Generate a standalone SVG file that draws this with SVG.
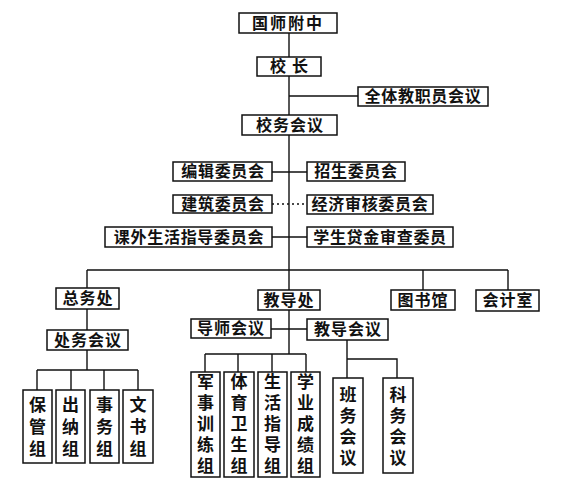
<svg xmlns="http://www.w3.org/2000/svg" width="561" height="491" viewBox="0 0 561 491">
<style>
.b{fill:#fff;stroke:#111;stroke-width:1.5}
.t{font-family:"Noto Sans CJK SC","Noto Sans CJK JP",sans-serif;font-size:16px;fill:#111;text-anchor:middle;font-weight:700}
.v{font-family:"Noto Sans CJK SC","Noto Sans CJK JP",sans-serif;font-size:17px;fill:#111;text-anchor:middle;font-weight:700;writing-mode:vertical-rl;dominant-baseline:central}
.c{fill:none;stroke:#111;stroke-width:1.4}
.d{stroke-dasharray:2 3}
</style>
<rect width="561" height="491" fill="#fff"/>
<g id="connectors">
<path class="c" d="M289 33V57M289 76V115M289 96H358M289 135V310M272 172H307M272 237H307M87 270H508M87 270V288M423 270V290M508 270V290M87 309V330M87 350V370M37 370H138M37 370V390M71 370V390M104 370V390M138 370V390M289 310V354M205 354H306M205 354V372M238 354V372M272 354V372M306 354V372M271 329H307M347 340V378M347 359H397V378"/>
<path class="c d" d="M272 204H307"/>
</g>
<g id="n1"><rect class="b" x="239" y="13" width="98" height="20"/><text class="t" x="288" y="29" letter-spacing="2">国师附中</text></g>
<g id="n2"><rect class="b" x="257" y="57" width="64" height="19"/><text class="t" x="292" y="72" letter-spacing="6">校长</text></g>
<g id="n3"><rect class="b" x="358" y="87" width="130" height="19"/><text class="t" x="423" y="102" letter-spacing="0.7">全体教职员会议</text></g>
<g id="n4"><rect class="b" x="242" y="115" width="95" height="20"/><text class="t" x="290" y="131" letter-spacing="1">校务会议</text></g>
<g id="n5"><rect class="b" x="173" y="162" width="99" height="19"/><text class="t" x="223" y="177" letter-spacing="0.7">编辑委员会</text></g>
<g id="n6"><rect class="b" x="307" y="162" width="98" height="19"/><text class="t" x="356" y="177" letter-spacing="0.7">招生委员会</text></g>
<g id="n7"><rect class="b" x="173" y="195" width="99" height="18"/><text class="t" x="223" y="210" letter-spacing="0.7">建筑委员会</text></g>
<g id="n8"><rect class="b" x="307" y="195" width="126" height="19"/><text class="t" x="370" y="210" letter-spacing="0.7">经济审核委员会</text></g>
<g id="n9"><rect class="b" x="105" y="227" width="167" height="20"/><text class="t" x="189" y="243" letter-spacing="0.7">课外生活指导委员会</text></g>
<g id="n10"><rect class="b" x="307" y="227" width="146" height="20"/><text class="t" x="380" y="243" letter-spacing="0.7">学生贷金审查委员</text></g>
<g id="n11"><rect class="b" x="56" y="288" width="63" height="21"/><text class="t" x="88" y="304" letter-spacing="1">总务处</text></g>
<g id="n12"><rect class="b" x="258" y="290" width="62" height="20"/><text class="t" x="289" y="306" letter-spacing="1">教导处</text></g>
<g id="n13"><rect class="b" x="391" y="290" width="64" height="20"/><text class="t" x="423" y="306" letter-spacing="1">图书馆</text></g>
<g id="n14"><rect class="b" x="476" y="290" width="63" height="21"/><text class="t" x="508" y="306" letter-spacing="1">会计室</text></g>
<g id="n15"><rect class="b" x="47" y="330" width="81" height="20"/><text class="t" x="88" y="346" letter-spacing="1">处务会议</text></g>
<g id="n16"><rect class="b" x="191" y="319" width="80" height="19"/><text class="t" x="231" y="334" letter-spacing="1">导师会议</text></g>
<g id="n17"><rect class="b" x="307" y="319" width="81" height="21"/><text class="t" x="348" y="335" letter-spacing="1">教导会议</text></g>
<g id="n18"><rect class="b" x="23" y="390" width="29" height="73"/><text class="v" x="37.5" y="429" letter-spacing="5">保管组</text></g>
<g id="n19"><rect class="b" x="56" y="390" width="29" height="73"/><text class="v" x="70.5" y="429" letter-spacing="5">出纳组</text></g>
<g id="n20"><rect class="b" x="90" y="390" width="29" height="73"/><text class="v" x="104.5" y="429" letter-spacing="5">事务组</text></g>
<g id="n21"><rect class="b" x="123" y="390" width="30" height="73"/><text class="v" x="138" y="429" letter-spacing="5">文书组</text></g>
<g id="n22"><rect class="b" x="191" y="372" width="29" height="105"/><text class="v" x="205.5" y="426" letter-spacing="4">军事训练组</text></g>
<g id="n23"><rect class="b" x="224" y="372" width="30" height="105"/><text class="v" x="239" y="426" letter-spacing="4">体育卫生组</text></g>
<g id="n24"><rect class="b" x="258" y="372" width="29" height="105"/><text class="v" x="272.5" y="426" letter-spacing="4">生活指导组</text></g>
<g id="n25"><rect class="b" x="291" y="372" width="29" height="105"/><text class="v" x="305.5" y="426" letter-spacing="4">学业成绩组</text></g>
<g id="n26"><rect class="b" x="333" y="378" width="30" height="95"/><text class="v" x="348" y="428" letter-spacing="4">班务会议</text></g>
<g id="n27"><rect class="b" x="383" y="378" width="30" height="95"/><text class="v" x="398" y="428" letter-spacing="4">科务会议</text></g>
</svg>
